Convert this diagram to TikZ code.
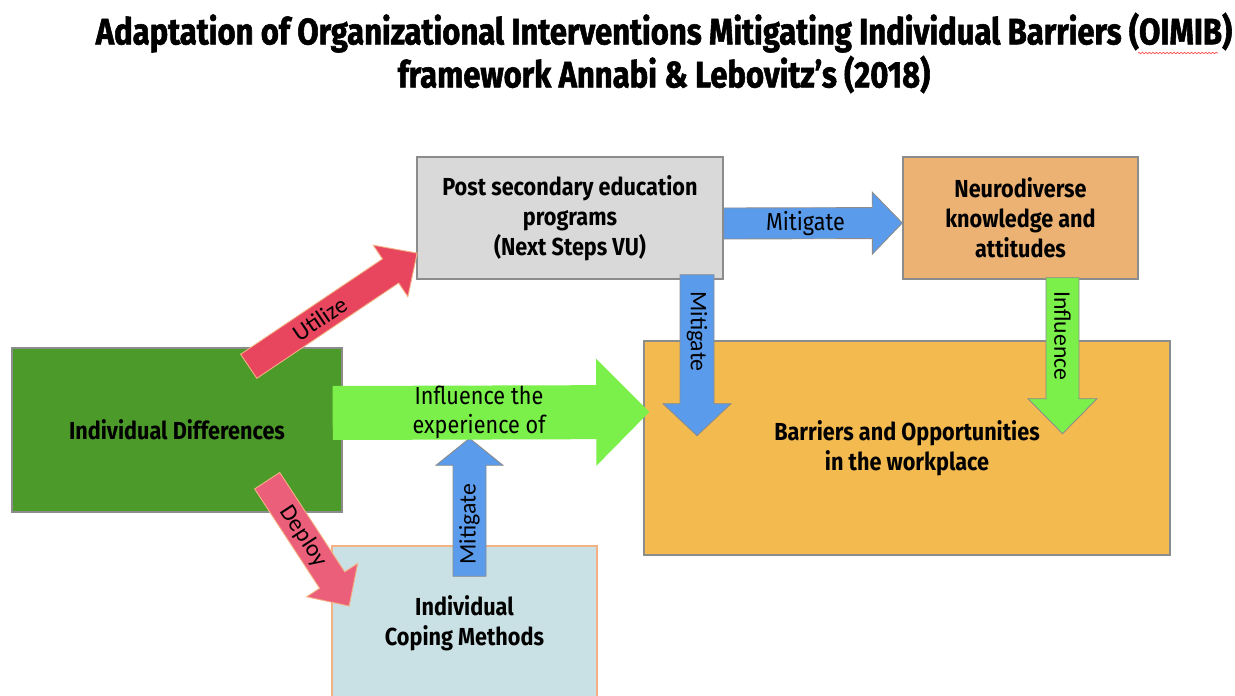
\documentclass[tikz,border=0pt]{standalone}
\usepackage{fontspec}
\setmainfont{Fira Sans}[FakeStretch=0.88]
\newfontfamily\titlefont{Fira Sans}[FakeStretch=0.84, FakeBold=1.5]
\newfontfamily\calfont{Carlito}
\usetikzlibrary{calc, decorations.pathmorphing}

\definecolor{mBoxLine}{HTML}{8C8C8C}
\definecolor{mGrayBox}{HTML}{D9D9D9}
\definecolor{mPeach}{HTML}{ECB274}
\definecolor{mGreen}{HTML}{4C9A2A}
\definecolor{mAmber}{HTML}{F2BA4F}
\definecolor{mIce}{HTML}{C9E0E4}
\definecolor{mIceLine}{HTML}{F4B183}
\definecolor{mRed}{HTML}{E8465F}
\definecolor{mPink}{HTML}{EC5F7B}
\definecolor{mBlue}{HTML}{5B9BEB}
\definecolor{mLime}{HTML}{7BF04A}

% settings of one block arrow
\pgfkeys{/blk/.cd, shaft/.store in=\ashaft, head/.store in=\ahead,
  tip/.store in=\atip, at/.store in=\aat, font/.store in=\afont}

% \blockarrow[shaft,head,tip,at,font]{name}{style}{from}{to}{label}
\newcommand{\blockarrow}[6][]{%
  \pgfkeys{/blk/.cd, shaft=0.62, head=1.26, tip=0.6, at=0.5,
    font=\calfont\fontsize{13.5}{16}\selectfont, #1}%
  \path let \p1=(#4), \p2=(#5) in \pgfextra{%
    \pgfmathsetmacro\arrang{atan2(\y2-\y1,\x2-\x1)}%
    \pgfmathsetmacro\arrlen{veclen(\x2-\x1,\y2-\y1)/28.45274}%
    \xdef\arrang{\arrang}\xdef\arrlen{\arrlen}};
  \begin{scope}[shift={(#4)}, rotate=\arrang]
    \draw[#3] (0,{-\ashaft/2}) -- ({\arrlen-\atip},{-\ashaft/2})
      -- ({\arrlen-\atip},{-\ahead/2}) -- (\arrlen,0)
      -- ({\arrlen-\atip},{\ahead/2}) -- ({\arrlen-\atip},{\ashaft/2})
      -- (0,{\ashaft/2}) -- cycle;
    \node[transform shape, font=\afont, align=center, inner sep=0pt] (#2)
      at ({\aat*(\arrlen-\atip)},0) {#6};
  \end{scope}}

\begin{document}
\begin{tikzpicture}[
  box/.style={draw=mBoxLine, line width=0.8pt, align=center,
              font=\bfseries\fontsize{14}{17}\selectfont, inner sep=2pt},
  redarr/.style={fill=mRed, draw=mIceLine, line width=0.5pt},
  pinkarr/.style={fill=mPink, draw=mIceLine, line width=0.5pt},
  bluearr/.style={fill=mBlue, draw=mBoxLine, line width=0.5pt},
  limearr/.style={fill=mLime, draw=mBoxLine, line width=0.5pt},
]
  \useasboundingbox (0,0) rectangle (24.7,13.9);
  \fill[white] (0,0) rectangle (24.7,13.9);

  % heading
  \node[font=\titlefont\bfseries\fontsize{21}{24.5}\selectfont, align=center] (title)
    at (13.28,12.84) {Adaptation of Organizational Interventions Mitigating Individual Barriers (OIMIB)\\
    framework Annabi \& Lebovitz’s (2018)};
  \draw[red!70, decorate, decoration={zigzag, amplitude=0.4pt, segment length=2pt}]
    (22.76,12.84) -- (24.36,12.84);

  % boxes
  \node[box, fill=mGrayBox, minimum width=6.12cm, minimum height=2.44cm] (prog)
    at (11.4,9.54) {Post secondary education\\programs\\(Next Steps VU)};
  \node[box, fill=mPeach, minimum width=4.7cm, minimum height=2.44cm] (nd)
    at (20.41,9.54) {Neurodiverse\\knowledge and\\attitudes};
  \node[box, fill=mGreen, minimum width=6.6cm, minimum height=3.28cm] (indiv)
    at (3.54,5.3) {Individual Differences};
  \node[box, fill=mAmber, minimum width=10.52cm, minimum height=4.28cm] (barr)
    at (18.14,4.94) {Barriers and Opportunities\\in the workplace};
  \node[box, draw=mIceLine, fill=mIce, minimum width=5.3cm, minimum height=3.08cm] (cope)
    at (9.29,1.44) {Individual\\Coping Methods};

  % arrows between the boxes
  \blockarrow[shaft=0.58, head=1.24, tip=0.64]{utilize}{redarr}
    {$(indiv.north east)+(-1.88,-0.38)$}{$(prog.west)+(0.02,-0.7)$}{Utilize}
  \blockarrow[shaft=0.6, head=1.22, tip=0.62, at=0.56]{deploy}{pinkarr}
    {$(indiv.south east)+(-1.51,0.64)$}{$(cope.north west)+(0.36,-1.22)$}{Deploy}
  \blockarrow[shaft=0.66, head=1.34, tip=0.54, at=0.47]{mitup}{bluearr}
    {$(cope.north)+(0.1,-0.62)$}{$(cope.north)+(0.1,2.14)$}{Mitigate}
  \blockarrow[shaft=1.08, head=2.14, tip=1.06, at=0.555,
    font=\fontsize{14}{16.4}\selectfont]{infl}{limearr, draw=none}
    {$(indiv.east)+(-0.2,0.34)$}{$(barr.west)+(0.12,0.72)$}{Influence the\\experience of}
  \blockarrow[shaft=0.62, head=1.24, tip=0.6, at=0.55,
    font=\fontsize{14}{16}\selectfont]{mitright}{bluearr}
    {$(prog.east)+(0,-0.11)$}{$(nd.west)+(0,-0.1)$}{Mitigate}
  \blockarrow[shaft=0.68, head=1.36, tip=0.64, at=0.44]{mitdown}{bluearr}
    {$(prog.south)+(2.54,0.1)$}{$(prog.south)+(2.54,-3.12)$}{Mitigate}
  \blockarrow[shaft=0.66, head=1.38, tip=0.7, at=0.48]{infdown}{limearr}
    {$(nd.south)+(0.84,0.04)$}{$(nd.south)+(0.84,-3.08)$}{Influence}
\end{tikzpicture}
\end{document}
